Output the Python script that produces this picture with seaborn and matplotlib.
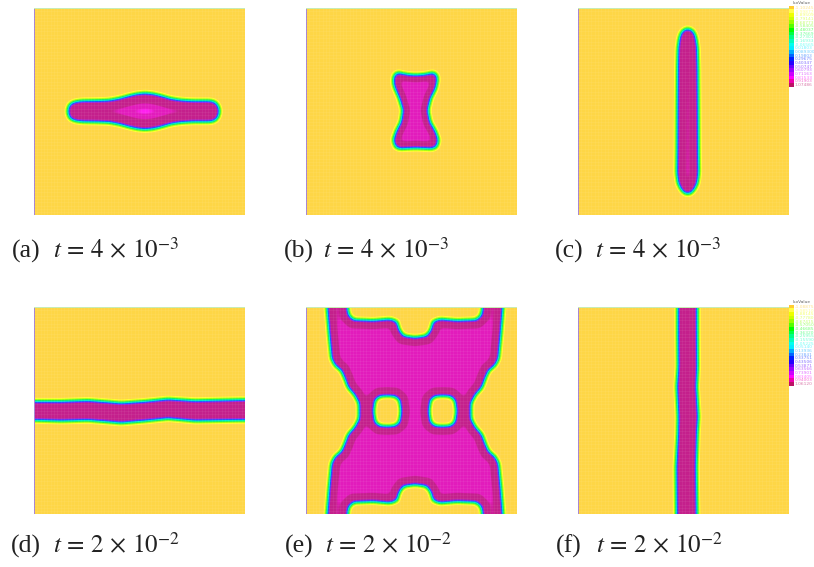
import numpy as np
import matplotlib
matplotlib.use("Agg")
import matplotlib.pyplot as plt
from matplotlib.colors import LinearSegmentedColormap
from matplotlib.patches import Rectangle
from matplotlib.path import Path
import seaborn as sns

W, H = 814, 567
PANEL_W, PANEL_H = 211, 207

# panel outlines (panel coordinates, y going down)
a_x = [34, 34.6, 36, 39, 43, 48, 63, 75, 85, 96, 103, 111, 119, 126, 137, 147, 159, 176, 180, 183, 184.6, 185.2]
a_half = [0, 3.5, 6.5, 8.6, 9.6, 10.2, 10.4, 10.8, 12.6, 15.6, 17.2, 18, 17.2, 15.6, 12.4, 10.9, 10.2, 10.2, 9.4, 7, 3.5, 0]
a_center = 103.3

b_x = [91.8, 100.7, 109.7, 119, 127.2, 130.5, 131.2, 129.5, 124.5, 121.6, 123.8, 129.5, 132.2, 130.5, 126.2,
       109.7, 93.5, 89.5, 87.5, 90.2, 95.2, 97, 93.5, 88.5, 87.5, 88.8]
b_y = [64.8, 66.6, 67.3, 66.6, 64.8, 67.2, 72, 80.3, 90.3, 102, 113.7, 123.7, 132, 138.5, 140.5,
       139.8, 140.5, 138.5, 132, 123.7, 113.7, 102, 90.3, 78.7, 72, 66.8]

c_y = [20.8, 22, 24.5, 30, 40, 60, 100, 140, 165, 175, 181, 184.5, 185.8]
c_half = [0, 3.5, 6, 8, 9.4, 9.9, 10.2, 10.4, 10.7, 9.4, 6.5, 3.5, 0]
c_center = 109.7

d_x = [-60, 0.7, 27.3, 54, 87.3, 110.7, 134, 160.7, 207.3, 270]
d_top = [94.7, 94.7, 94.7, 93.7, 96.3, 94.7, 92.3, 94, 93, 93]
d_bottom = [113, 113, 113.7, 113, 115.7, 113.7, 111.3, 113.7, 113, 113]

e_side_dx = [55.7, 55.7, 60, 66.7, 70, 73.3, 80, 83.3, 85.7, 87.7, 87.7]
e_side_dy = [0, 7.7, 16, 23.7, 32.7, 40.3, 46, 52.7, 77.7, 103, 160]
e_notch_dx = [0, 11.7, 16, 18.3, 25, 41.7, 61.7, 66.7, 67.7, 67.7]
e_notch_dy = [73.3, 75, 81, 89.3, 91.7, 90.3, 91, 96, 103, 160]
e_hole_dx = [0, 8, 12.5, 14, 12.5, 8, 0, -8, -12.5, -14, -12.5, -8]
e_hole_dy = [-15.5, -15, -11, 0, 11, 15, 15.5, 15, 11, 0, -11, -15]
e_center = (109, 104)
e_hole_offset = 27.7

f_y = [-60, 1, 26.3, 59.7, 79.7, 109.7, 126.3, 159.7, 206.3, 270]
f_left = [100, 100, 100, 100.3, 99, 100.3, 100, 98.3, 98.7, 98.7]
f_right = [119, 119, 119, 119.3, 118.3, 120, 119, 118, 118.7, 118.7]

captions = ["(a)", "(b)", "(c)", "(d)", "(e)", "(f)"]
caption_math = [r"$t\,=\,4\,\times\,10^{-3}$"] * 3 + [r"$t\,=\,2\,\times\,10^{-2}$"] * 3

iso_top = ["-1.10245", "-0.99877", "-0.89509", "-0.79141", "-0.68773", "-0.58405", "-0.48037", "-0.37669",
           "-0.27301", "-0.16933", "-0.06565", "0.01803", "0.089300", "0.19803", "0.29675", "0.40347",
           "0.50747", "0.60793", "0.71163", "0.81533", "0.91903", "1.07486"]
iso_bottom = ["-1.08875", "-0.98510", "-0.88145", "-0.77780", "-0.67415", "-0.57050", "-0.46685", "-0.36320",
              "-0.25955", "-0.15590", "-0.05225", "0.05140", "0.13936", "0.23841", "0.33751", "0.43506",
              "0.53871", "0.63566", "0.73901", "0.83405", "0.94003", "1.06120"]
iso_colors = ["#ffcc33", "#ffff44", "#eeff00", "#ccff00", "#99ff00", "#55ff00", "#00ff00", "#00ff44",
              "#00ff88", "#00ffbb", "#00ffee", "#00eeff", "#00aaff", "#0066ff", "#0022ff", "#2200ff",
              "#6600ff", "#9900ff", "#cc00ff", "#ff00ff", "#ee00aa", "#bb1266"]


def signed_distance(outers, holes=()):
    xx, yy = np.meshgrid(np.arange(PANEL_W) + 0.5, np.arange(PANEL_H) + 0.5)
    pts = np.c_[xx.ravel(), yy.ravel()]
    best = np.full(len(pts), 1e9)
    inside = np.zeros(len(pts), dtype=bool)
    for loop, is_hole in [(o, False) for o in outers] + [(h, True) for h in holes]:
        loop = np.asarray(loop, dtype=float)
        p = Path(np.vstack([loop, loop[:1]]))
        hit = p.contains_points(pts)
        inside = inside & ~hit if is_hole else inside | hit
        for s, e in zip(loop, np.roll(loop, -1, axis=0)):
            seg = e - s
            t = np.clip(((pts - s) @ seg) / max(seg @ seg, 1e-9), 0, 1)
            dist = np.hypot(*(pts - s - t[:, None] * seg).T)
            best = np.minimum(best, dist)
    d = np.where(inside, best, -best).reshape(xx.shape)
    # round the corners of the read outline a little
    pad = np.pad(d, 3, mode="edge")
    kernel = np.ones(7) / 7
    pad = np.apply_along_axis(lambda r: np.convolve(r, kernel, mode="same"), 0, pad)
    pad = np.apply_along_axis(lambda r: np.convolve(r, kernel, mode="same"), 1, pad)
    return pad[3:-3, 3:-3]


def level_cmap(core, spot=None, vmin=-6.0, vmax=22.0):
    dark, mid, bright = "#c4208c", "#e21cbc", "#ff20f0"
    nodes = [(-6, "#fed646"), (-4.2, "#fed646"), (-3.3, "#ffff30"), (-2.2, "#a0ff10"), (-1.2, "#10f060"),
             (-0.3, "#00e8d0"), (0.6, "#1060ff"), (1.4, "#8c20f0"), (2.4, dark)]
    if core is None:
        nodes += [(22, dark)]
    else:
        nodes += [(core - 0.6, dark), (core + 0.6, mid)]
        if spot is None:
            nodes += [(22, mid)]
        else:
            nodes += [(spot - 0.7, mid), (spot + 0.6, bright), (22, bright)]
    return LinearSegmentedColormap.from_list(
        "iso", [((v - vmin) / (vmax - vmin), c) for v, c in nodes], N=512)


def band_x(x, half, center):
    x, half = np.array(x), np.array(half)
    return np.c_[np.r_[x, x[-2:0:-1]], np.r_[center - half, (center + half)[-2:0:-1]]]


def band_y(y, half, center):
    y, half = np.array(y), np.array(half)
    return np.c_[np.r_[center + half, (center - half)[-2:0:-1]], np.r_[y, y[-2:0:-1]]]


def shape_e():
    sx, sy = np.array(e_side_dx), np.array(e_side_dy)
    nx, ny = np.array(e_notch_dx), np.array(e_notch_dy)
    cx, cy = e_center
    xs = np.r_[cx - sx[::-1], cx - sx[1:], cx - nx[::-1], cx + nx[1:],
               cx + sx[::-1], cx + sx[1:], cx + nx[::-1], cx - nx[1:]]
    ys = np.r_[cy - sy[::-1], cy + sy[1:], cy + ny[::-1], cy + ny[1:],
               cy + sy[::-1], cy - sy[1:], cy - ny[::-1], cy - ny[1:]]
    outer = np.c_[xs, ys]
    holes = [np.c_[cx + k * e_hole_offset + np.array(e_hole_dx), cy + np.array(e_hole_dy)] for k in (-1, 1)]
    return outer, holes


e_outer, e_holes = shape_e()
panels = [
    (34, 8, [band_x(a_x, a_half, a_center)], [], 10.0, 15.3),
    (306, 8, [np.c_[b_x, b_y]], [], 7.0, None),
    (578, 8, [band_y(c_y, c_half, c_center)], [], 8.8, None),
    (34, 307, [np.r_[np.c_[d_x, d_top], np.c_[d_x, d_bottom][::-1]]], [], None, None),
    (306, 307, [e_outer], e_holes, 8.5, None),
    (578, 307, [np.r_[np.c_[f_left, f_y], np.c_[f_right, f_y][::-1]]], [], None, None),
]

sns.set_theme(style="white")
plt.rcParams["font.family"] = ["Liberation Serif", "DejaVu Serif"]
plt.rcParams["mathtext.fontset"] = "stix"

fig = plt.figure(figsize=(W / 100, H / 100), dpi=100, facecolor="white")

for px, py, outers, holes, core, spot in panels:
    ax = fig.add_axes([px / W, 1 - (py + PANEL_H) / H, PANEL_W / W, PANEL_H / H])
    field = signed_distance(outers, holes)
    sns.heatmap(field, ax=ax, cmap=level_cmap(core, spot), vmin=-6, vmax=22, cbar=False,
                xticklabels=False, yticklabels=False, square=False)
    # faint mesh of the finite element grid
    for v in np.arange(0, PANEL_W, 3.35):
        ax.axvline(v, color="white", lw=0.5, alpha=0.07)
    for v in np.arange(0, PANEL_H, 3.35):
        ax.axhline(v, color="white", lw=0.5, alpha=0.07)
    ax.add_patch(Rectangle((0, 0), 1, PANEL_H, color="#a480d0", lw=0))
    ax.add_patch(Rectangle((0, 0), PANEL_W, 1, color="#c4ecb0", lw=0))
    for s in ax.spines.values():
        s.set_visible(False)

# captions
cap_pos = [(12, 53, 258), (284, 323, 258), (555, 595, 258), (11, 53, 553), (285, 325, 553), (556, 596, 553)]
for cap, math, (x1, x2, y) in zip(captions, caption_math, cap_pos):
    fig.text(x1 / W, 1 - y / H, cap, fontsize=18.5, color="#222222", va="baseline")
    fig.text(x2 / W, 1 - y / H, math, fontsize=18, color="#222222", va="baseline")

# small isovalue legends right of panels c and f
for top, iso in [(6, iso_top), (305, iso_bottom)]:
    lg = fig.add_axes([789 / W, 1 - (top + 81) / H, 25 / W, 81 / H])
    lg.set_xlim(0, 25)
    lg.set_ylim(len(iso) - 0.5, -0.5)
    lg.axis("off")
    sns.scatterplot(x=[2.5] * len(iso), y=range(len(iso)), hue=iso, palette=iso_colors, marker="s", s=9,
                    linewidth=0, legend=False, ax=lg, clip_on=False)
    for i, (val, col) in enumerate(zip(iso, iso_colors)):
        lg.text(5.5, i, val, fontsize=3.2, color=col, alpha=0.55, va="center", family="DejaVu Sans")
    fig.text(793 / W, 1 - (top - 3) / H, "IsoValue", fontsize=3.2, color="#666666", va="center",
             family="DejaVu Sans")

fig.savefig("out.png", dpi=100)
